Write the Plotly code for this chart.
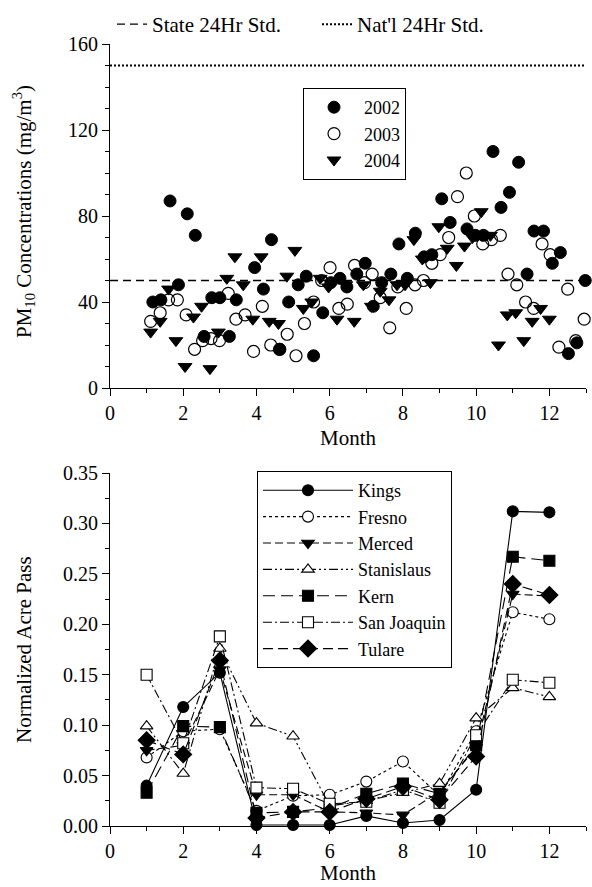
import plotly.graph_objects as go

# ---------------- Top panel data (PM10, ug/m3) ----------------
month_2002 = [1.17,1.39,1.64,1.87,2.11,2.33,2.57,2.78,3.0,3.26,3.45,3.95,4.19,4.41,4.64,4.88,5.14,5.36,5.56,5.81,
              6.03,6.28,6.47,6.74,6.97,7.19,7.42,7.67,7.89,8.12,8.34,8.58,8.79,9.06,9.29,9.75,9.98,10.2,10.46,10.68,
              10.91,11.16,11.39,11.58,11.84,12.08,12.30,12.52,12.75,12.98]
pm_2002 = [40,41,87,48,81,71,24,42,42,24,41,56,46,69,18,40,48,52,15,35,
           49,51,47,53,58,38,49,53,67,51,72,61,62,88,77,74,71,71,110,84,
           91,105,53,73,73,58,63,16,21,50]

month_2003 = [1.11,1.37,1.6,1.84,2.08,2.31,2.53,2.76,2.99,3.23,3.44,3.69,3.92,4.16,4.39,4.63,4.84,5.08,5.31,5.56,
              5.78,6.01,6.25,6.48,6.68,6.95,7.16,7.38,7.64,7.86,8.09,8.33,8.56,8.79,9.02,9.25,9.49,9.73,9.95,10.18,
              10.42,10.66,10.87,11.11,11.35,11.57,11.80,12.02,12.26,12.50,12.72,12.95]
pm_2003 = [31,35,41,41,34,18,22,23,22,44,32,34,17,38,20,18,25,15,30,40,
           50,56,37,39,57,49,53,42,28,47,37,48,50,58,62,70,89,100,80,67,
           69,71,53,48,40,37,67,62,19,46,22,32]

month_2004 = [1.11,1.37,1.6,1.8,2.05,2.28,2.5,2.73,2.96,3.19,3.41,3.64,3.9,4.13,4.35,4.6,4.83,5.05,5.28,5.51,
              5.74,5.97,6.2,6.44,6.67,6.92,7.14,7.38,7.62,7.84,8.06,8.3,8.53,8.75,8.98,9.21,9.46,9.68,9.9,10.14,
              10.16,10.39,10.61,10.85,11.08,11.3,11.53,11.76,12.0]
pm_2004 = [26,31,46,22,10,33,38,9,26,51,61,48,32,61,31,30,52,64,37,40,
           51,47,32,48,31,48,38,45,41,48,48,69,60,49,75,65,57,66,70,82,
           71,71,20,34,35,22,31,37,32]

std_x = [0, 13]
state_std = 50
natl_std = 150

# ---------------- Bottom panel data (normalized acre pass) ----------------
months = [1,2,3,4,5,6,7,8,9,10,11,12]
kings       = [0.040,0.118,0.152,0.001,0.001,0.001,0.010,0.003,0.006,0.036,0.312,0.311]
fresno      = [0.068,0.094,0.096,0.015,0.030,0.031,0.044,0.064,0.030,0.094,0.212,0.205]
merced      = [0.075,0.080,0.155,0.031,0.031,0.014,0.013,0.011,0.034,0.078,0.230,0.228]
stanislaus  = [0.099,0.052,0.176,0.102,0.089,0.020,0.025,0.033,0.042,0.107,0.137,0.128]
kern        = [0.033,0.099,0.098,0.013,0.014,0.018,0.032,0.042,0.032,0.080,0.267,0.263]
san_joaquin = [0.150,0.082,0.188,0.038,0.037,0.022,0.024,0.036,0.023,0.090,0.145,0.142]
tulare      = [0.085,0.071,0.164,0.008,0.014,0.014,0.027,0.039,0.026,0.069,0.240,0.229]

FONT = "Liberation Serif"
BLACK = "black"

fig = go.Figure()

# Top panel
fig.add_trace(go.Scatter(x=std_x, y=[state_std]*2, mode="lines", name="State 24Hr Std.",
                         line=dict(color=BLACK, width=1.3, dash="8px,5px"),
                         xaxis="x", yaxis="y", legend="legend2"))
fig.add_trace(go.Scatter(x=std_x, y=[natl_std]*2, mode="lines", name="Nat'l 24Hr Std.",
                         line=dict(color=BLACK, width=2, dash="2px,2px"),
                         xaxis="x", yaxis="y", legend="legend2"))
fig.add_trace(go.Scatter(x=month_2002, y=pm_2002, mode="markers", name="2002",
                         marker=dict(symbol="circle", size=12, color=BLACK, line=dict(color=BLACK, width=1)),
                         xaxis="x", yaxis="y", legend="legend", cliponaxis=False))
fig.add_trace(go.Scatter(x=month_2003, y=pm_2003, mode="markers", name="2003",
                         marker=dict(symbol="circle-open", size=12, color=BLACK, line=dict(color=BLACK, width=1.2)),
                         xaxis="x", yaxis="y", legend="legend", cliponaxis=False))
fig.add_trace(go.Scatter(x=month_2004, y=pm_2004, mode="markers", name="2004",
                         marker=dict(symbol="triangle-down", size=12, color=BLACK, line=dict(color=BLACK, width=1)),
                         xaxis="x", yaxis="y", legend="legend", cliponaxis=False))

# Bottom panel
series = [
    ("Kings", kings, "circle", BLACK, "solid"),
    ("Fresno", fresno, "circle", "white", "dot"),
    ("Merced", merced, "triangle-down", BLACK, "8px,4px"),
    ("Stanislaus", stanislaus, "triangle-up", "white", "9px,3px,2px,3px,2px,3px"),
    ("Kern", kern, "square", BLACK, "12px,6px"),
    ("San Joaquin", san_joaquin, "square", "white", "9px,3px,2px,3px"),
    ("Tulare", tulare, "diamond", BLACK, "10px,5px"),
]
for name, vals, sym, fill, dash in series:
    fig.add_trace(go.Scatter(x=months, y=vals, mode="lines+markers", name=name,
                             line=dict(color=BLACK, width=1.1, dash=dash),
                             marker=dict(symbol=sym, size=11 if sym != "diamond" else 13,
                                         color=fill, line=dict(color=BLACK, width=1.1)),
                             xaxis="x2", yaxis="y2", legend="legend3", cliponaxis=False))

W, H = 592, 887
L, R = 110, 6
plot_w = W - L - R

def py(p):
    return (H - p) / H

def px(p):
    return (p - L) / plot_w

axis_common = dict(showline=True, linecolor=BLACK, linewidth=1.2, mirror=False,
                   ticks="outside", ticklen=7, tickwidth=1, tickcolor=BLACK,
                   showgrid=False, zeroline=False,
                   tickfont=dict(family=FONT, size=20, color=BLACK))

fig.update_layout(
    width=W, height=H,
    margin=dict(l=L, r=R, t=0, b=0, autoexpand=False),
    paper_bgcolor="white", plot_bgcolor="white",
    font=dict(family=FONT, size=20, color=BLACK),
    xaxis=dict(domain=[0, 1], range=[0, 13], tickvals=[0,2,4,6,8,10,12], anchor="y",
               minor=dict(dtick=1, tick0=0, ticks="outside", ticklen=4, tickcolor=BLACK), **axis_common),
    yaxis=dict(domain=[py(388), py(44)], range=[0, 160], tickvals=[0,40,80,120,160], anchor="x",
               minor=dict(dtick=10, tick0=0, ticks="outside", ticklen=4, tickcolor=BLACK), **axis_common),
    xaxis2=dict(domain=[0, 1], range=[0, 13], tickvals=[0,2,4,6,8,10,12], anchor="y2",
                minor=dict(dtick=1, tick0=0, ticks="outside", ticklen=4, tickcolor=BLACK), **axis_common),
    yaxis2=dict(domain=[py(826), py(473)], range=[0, 0.35], tickvals=[0,0.05,0.1,0.15,0.2,0.25,0.3,0.35],
                tickformat=".2f", anchor="x2",
                minor=dict(dtick=0.025, tick0=0, ticks="outside", ticklen=4, tickcolor=BLACK), **axis_common),
    legend=dict(x=px(303), y=py(88), xanchor="left", yanchor="top",
                bgcolor="white", bordercolor=BLACK, borderwidth=1,
                font=dict(family=FONT, size=18, color=BLACK), itemwidth=50, tracegroupgap=0),
    legend2=dict(x=px(112), y=py(4), xanchor="left", yanchor="top", orientation="h",
                 bgcolor="rgba(0,0,0,0)", borderwidth=0, entrywidth=160, entrywidthmode="pixels",
                 font=dict(family=FONT, size=21, color=BLACK)),
    legend3=dict(x=px(257), y=py(471), xanchor="left", yanchor="top",
                 bgcolor="white", bordercolor=BLACK, borderwidth=1,
                 font=dict(family=FONT, size=18, color=BLACK), itemwidth=90, tracegroupgap=0),
    showlegend=True,
)

annots = [
    dict(text="PM<sub>10</sub> Concentrations (mg/m<sup>3</sup>)", x=px(24), y=py(212), textangle=-90),
    dict(text="Month", x=px(348), y=py(438), textangle=0),
    dict(text="Normalized Acre Pass", x=px(24), y=py(650), textangle=-90),
    dict(text="Month", x=px(348), y=py(873), textangle=0),
]
for a in annots:
    fig.add_annotation(xref="paper", yref="paper", showarrow=False, xanchor="center", yanchor="middle",
                       font=dict(family=FONT, size=21, color=BLACK), **a)

fig.write_html("out.html", config={"displayModeBar": False},
               post_script="document.body.style.margin='0';document.body.style.overflow='hidden';")
